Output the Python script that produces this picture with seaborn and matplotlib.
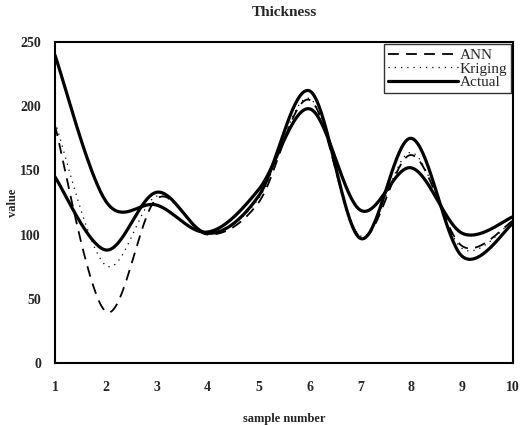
import numpy as np
import pandas as pd
import matplotlib
matplotlib.use("Agg")
import matplotlib.pyplot as plt
import seaborn as sns

# sample numbers and series values
samples = [1, 2, 3, 4, 5, 6, 7, 8, 9, 10]
ann = [185, 40, 128, 100, 125, 205, 98, 162, 91, 111]
kriging = [188, 76, 130, 101, 128, 206, 99, 164, 89, 111]
actual = [145, 88, 133, 101, 130, 212, 97, 175, 83, 109]
trend = [240, 126, 123, 102, 135, 198, 119, 152, 101, 114]
y_ticks = [0, 50, 100, 150, 200, 250]


def smooth(xs, ys, steps=40):
    """Cubic Bezier smoothing through every point (spreadsheet-style curve)."""
    xs = np.asarray(xs, float)
    ys = np.asarray(ys, float)
    n = len(xs)
    out_x, out_y = [], []
    t = np.linspace(0, 1, steps)
    for i in range(n - 1):
        p0 = np.array([xs[i], ys[i]])
        p3 = np.array([xs[i + 1], ys[i + 1]])
        prev = np.array([xs[max(i - 1, 0)], ys[max(i - 1, 0)]])
        nxt = np.array([xs[min(i + 2, n - 1)], ys[min(i + 2, n - 1)]])
        c1 = p0 + (p3 - prev) / 6.0
        c2 = p3 - (nxt - p0) / 6.0
        b = ((1 - t) ** 3)[:, None] * p0 + (3 * (1 - t) ** 2 * t)[:, None] * c1 \
            + (3 * (1 - t) * t ** 2)[:, None] * c2 + (t ** 3)[:, None] * p3
        if i > 0:
            b = b[1:]
        out_x.extend(b[:, 0])
        out_y.extend(b[:, 1])
    return np.array(out_x), np.array(out_y)


sns.set_theme(style="white")
plt.rcParams["font.family"] = ["Liberation Serif", "DejaVu Serif"]

fig = plt.figure(figsize=(5.28, 4.25), dpi=100)
ax = fig.add_axes([0.104, 0.146, 0.868, 0.755])

series = [
    ("ANN", ann, dict(color="black", lw=1.3, dashes=(6, 4))),
    ("Kriging", kriging, dict(color="black", lw=0.9, dashes=(1, 4))),
    ("Actual", actual, dict(color="black", lw=2.3)),
    ("_nolegend_", trend, dict(color="black", lw=2.3)),
]

handles = []
for name, vals, style in series:
    sx, sy = smooth(samples, vals)
    df = pd.DataFrame({"sample": sx, "value": sy})
    dashes = style.pop("dashes", None)
    sns.lineplot(data=df, x="sample", y="value", ax=ax, sort=False,
                 estimator=None, **style)
    line = ax.lines[-1]
    if dashes is not None:
        line.set_dashes(dashes)
    if not name.startswith("_"):
        line.set_label(name)
        handles.append(line)

ax.set_xlim(1, 10)
ax.set_ylim(0, 250)
ax.set_xticks(samples)
ax.set_yticks(y_ticks)
ax.tick_params(axis="both", labelsize=10, length=4, width=1, direction="out",
               color="black", pad=6)
ax.tick_params(axis="x", pad=9)
for lab in ax.get_xticklabels() + ax.get_yticklabels():
    lab.set_fontweight("bold")
for sp in ax.spines.values():
    sp.set_color("black")
    sp.set_linewidth(1.5)

ax.set_title("Thickness", fontsize=11, fontweight="bold", pad=19)
ax.set_xlabel("sample number", fontsize=9, fontweight="bold", labelpad=14)
ax.set_ylabel("value", fontsize=9, fontweight="bold")
ax.yaxis.set_label_coords(-0.078, 0.5)

leg = ax.legend(handles=handles, loc="upper right", fontsize=11,
                frameon=True, fancybox=False, edgecolor="black",
                handlelength=4.6, handletextpad=0.1, borderpad=0.25,
                labelspacing=0.0, borderaxespad=0.15)
leg.get_frame().set_linewidth(1.0)

fig.savefig("out.png", dpi=100, facecolor="white")
